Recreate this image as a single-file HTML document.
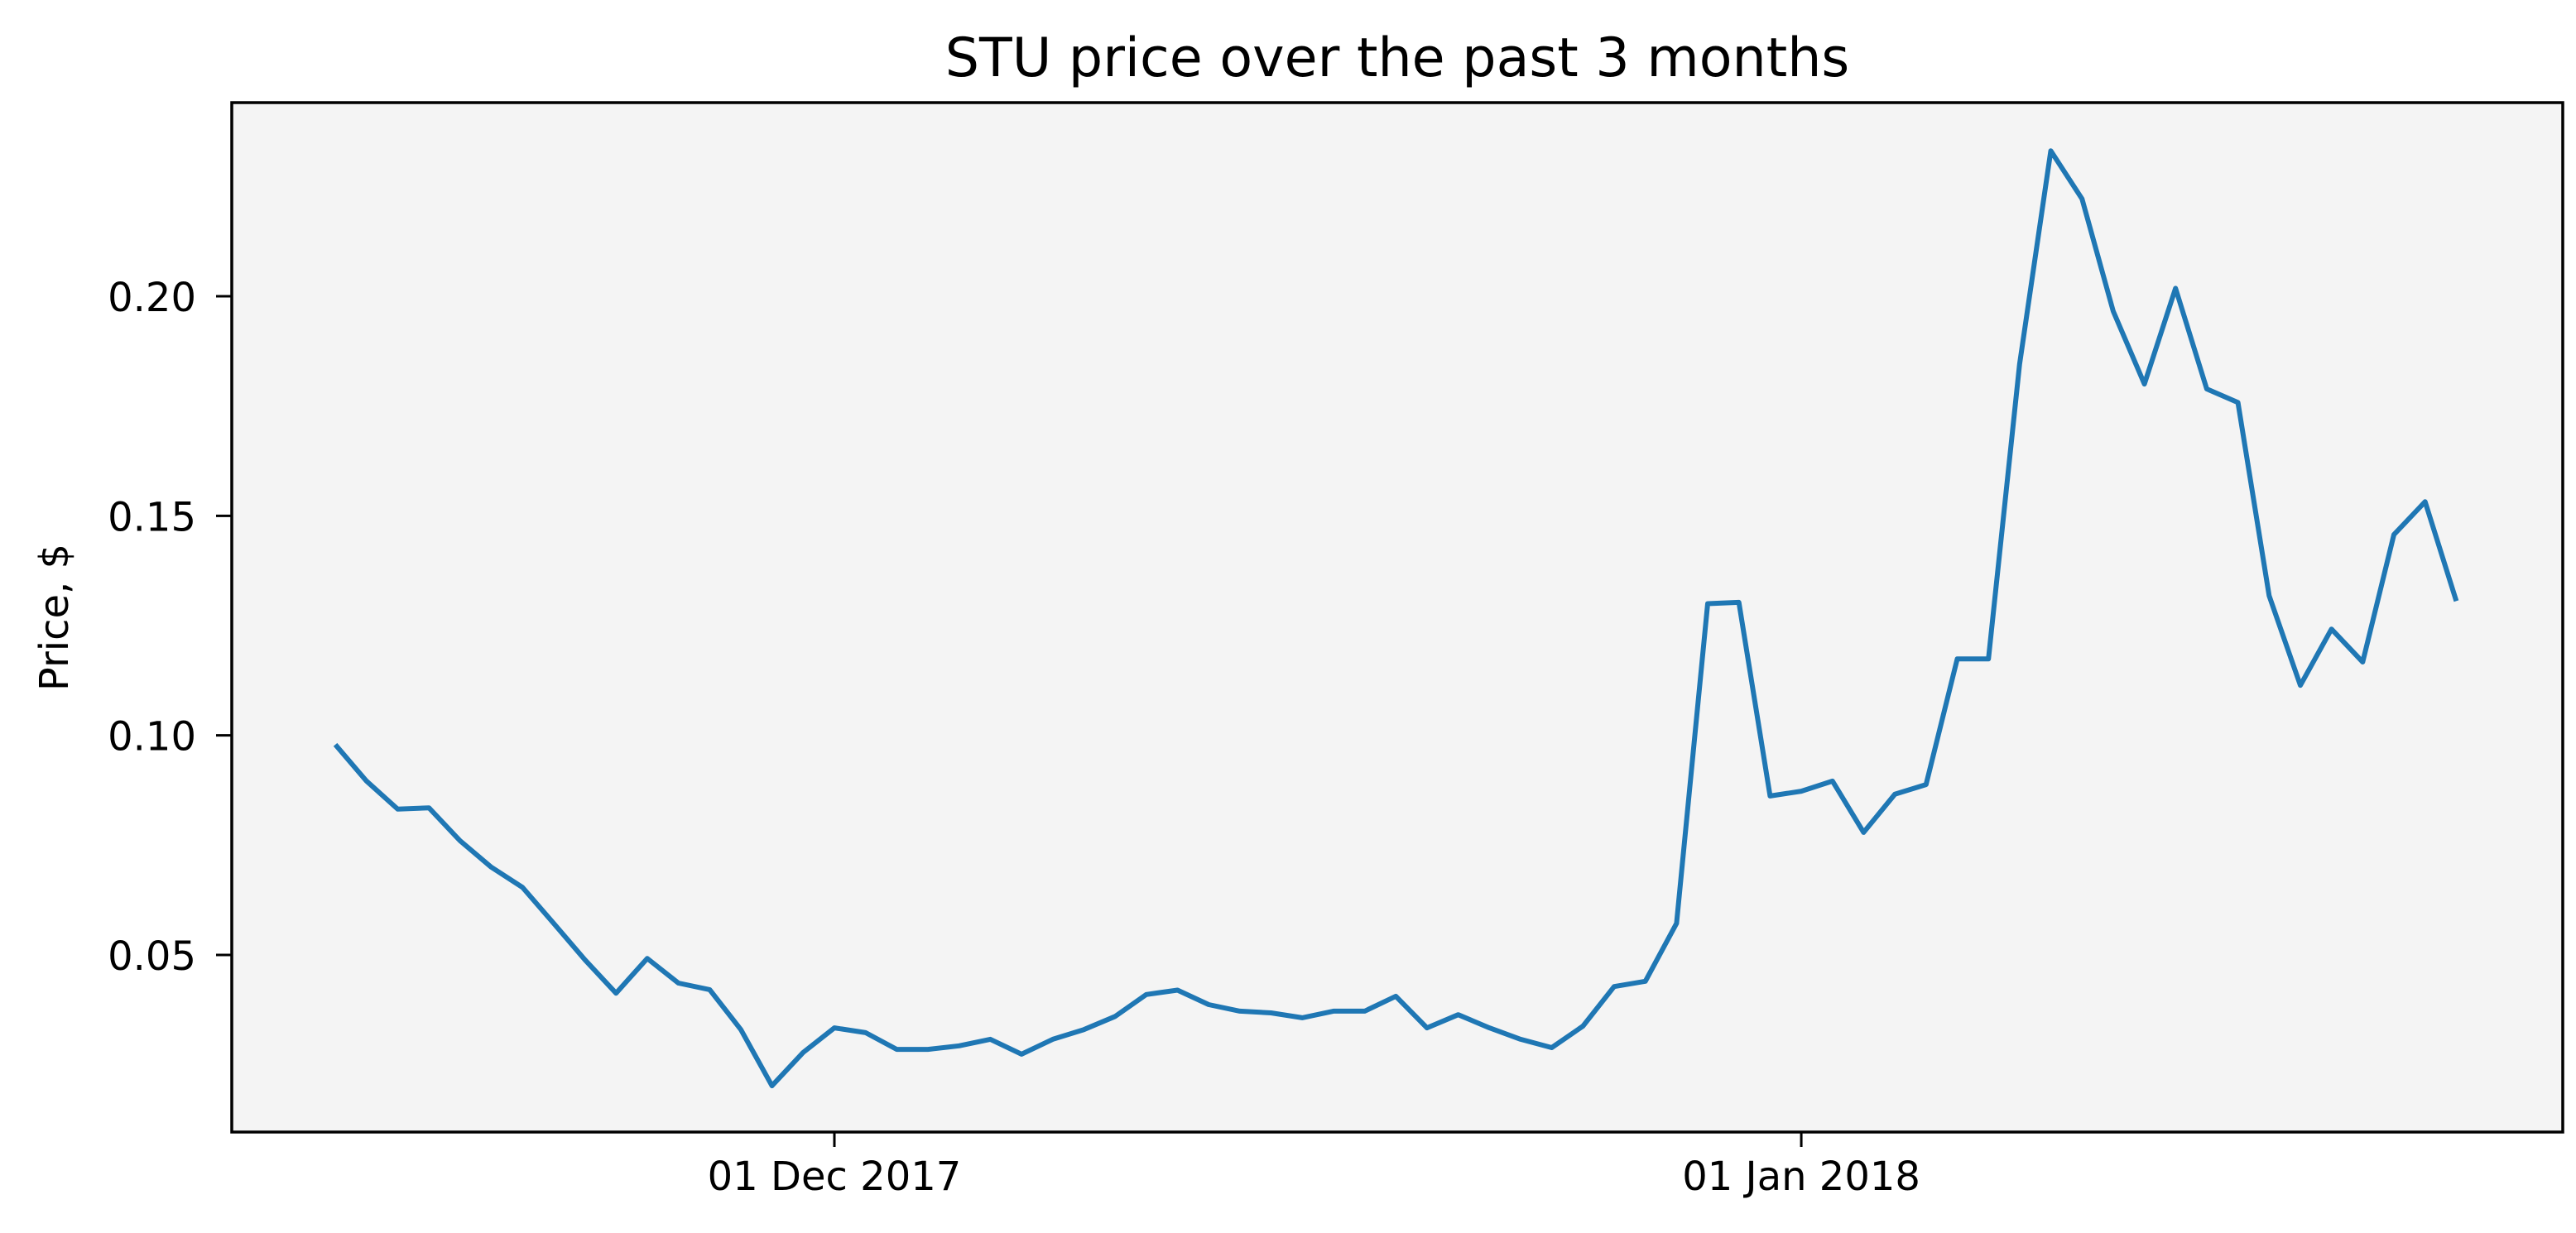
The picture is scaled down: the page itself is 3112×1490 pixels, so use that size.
<!DOCTYPE html>
<html><head><meta charset="utf-8"><style>
html,body{margin:0;padding:0;background:#fff;}
svg{display:block;font-family:"DejaVu Sans","Liberation Sans",sans-serif;}
</style></head><body>
<svg id="chart" width="3112" height="1490" viewBox="0 0 3112 1490">
<rect x="0" y="0" width="3112" height="1490" fill="#fff"/>
<rect x="280" y="124" width="2816" height="1244" fill="#f4f4f4"/>
<g id="marks"></g>
<rect x="280" y="124" width="2816" height="1244" fill="none" stroke="#000" stroke-width="3.5"/>
<text x="1688" y="92" font-size="65" text-anchor="middle">STU price over the past 3 months</text>
<text transform="translate(82,746) rotate(-90)" font-size="48" text-anchor="middle">Price, $</text>
</svg>
<script>
const startDate = "2017-11-15";
const prices = [0.0979,0.0896,0.0832,0.0835,0.0760,0.0700,0.0654,0.0572,0.0489,0.0413,0.0492,0.0436,0.0421,0.0330,0.0202,0.0278,
0.0334,0.0323,0.0285,0.0285,0.0293,0.0308,0.0274,0.0308,0.0330,0.0360,0.0410,0.0420,0.0387,0.0372,0.0368,0.0357,0.0372,0.0372,0.0406,0.0334,0.0364,0.0334,0.0308,0.0289,0.0338,0.0428,0.0440,0.0572,0.1300,0.1303,0.0862,
0.0873,0.0896,0.0779,0.0866,0.0888,0.1174,0.1174,0.1845,0.2331,0.2222,0.1966,0.1800,0.2018,0.1789,0.1758,0.1318,0.1114,0.1242,0.1167,0.1457,0.1532,0.1306];
const yTicks = [0.05,0.10,0.15,0.20];
const yTickLabels = ["0.05","0.10","0.15","0.20"];
const xTickDays = [16,47];
const xTickLabels = ["01 Dec 2017","01 Jan 2018"];

const NS="http://www.w3.org/2000/svg";
function xScale(i){return 1008+(i-16)*37.68;}
function yScale(v){return 1154-(v-0.05)*5306.7;}
const g=document.getElementById('marks');
const svg=document.getElementById('chart');

const pts=prices.map((v,i)=>xScale(i).toFixed(1)+','+yScale(v).toFixed(1)).join(' ');
const line=document.createElementNS(NS,'polyline');
line.setAttribute('points',pts);
line.setAttribute('fill','none');
line.setAttribute('stroke','#1f77b4');
line.setAttribute('stroke-width','6');
line.setAttribute('stroke-linejoin','round');


g.appendChild(line);

yTicks.forEach((t,k)=>{
  const y=yScale(t);
  const tk=document.createElementNS(NS,'line');
  tk.setAttribute('x1',261);tk.setAttribute('x2',280);tk.setAttribute('y1',y);tk.setAttribute('y2',y);
  tk.setAttribute('stroke','#000');tk.setAttribute('stroke-width','3');
  
  
  svg.appendChild(tk);
  const tx=document.createElementNS(NS,'text');
  tx.setAttribute('x',237);tx.setAttribute('y',y+18);tx.setAttribute('font-size','48');tx.setAttribute('text-anchor','end');
  tx.textContent=yTickLabels[k];
  
  
  svg.appendChild(tx);
});
xTickDays.forEach((d,k)=>{
  const x=xScale(d);
  const tk=document.createElementNS(NS,'line');
  tk.setAttribute('x1',x);tk.setAttribute('x2',x);tk.setAttribute('y1',1368);tk.setAttribute('y2',1386);
  tk.setAttribute('stroke','#000');tk.setAttribute('stroke-width','3');
  
  
  svg.appendChild(tk);
  const tx=document.createElementNS(NS,'text');
  tx.setAttribute('x',x);tx.setAttribute('y',1438);tx.setAttribute('font-size','48');tx.setAttribute('text-anchor','middle');
  tx.textContent=xTickLabels[k];
  
  
  svg.appendChild(tx);
});
</script>
</body></html>
